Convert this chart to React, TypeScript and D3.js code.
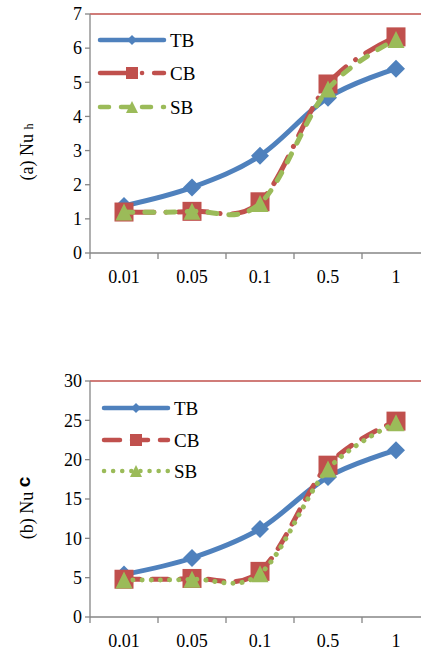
import * as d3 from "d3";

const categories = ["0.01", "0.05", "0.1", "0.5", "1"];
const seriesNames = ["TB", "CB", "SB"];

// panel (a) Nu_h
const nuhTB = [1.38, 1.92, 2.85, 4.55, 5.4];
const nuhCB = [1.2, 1.22, 1.5, 4.95, 6.33];
const nuhSB = [1.2, 1.22, 1.45, 4.8, 6.25];
const nuhTicks = [0, 1, 2, 3, 4, 5, 6, 7];

// panel (b) Nu_c
const nucTB = [5.4, 7.5, 11.2, 17.8, 21.2];
const nucCB = [4.8, 4.9, 5.8, 19.3, 24.9];
const nucSB = [4.7, 4.8, 5.5, 18.8, 24.7];
const nucTicks = [0, 5, 10, 15, 20, 25, 30];

const BLUE = "#4f81bd";
const RED = "#c0504d";
const GREEN = "#9bbb59";
const GREY = "#868686";
const SERIF = { fontFamily: "'Liberation Serif', 'Times New Roman', Times, serif" };

type Style = { color: string; dash: string; marker: string };

function Marker({ type, x, y, color, size }: { type: string; x: number; y: number; color: string; size: number }) {
  if (type === "diamond") {
    const r = size;
    return <path d={`M${x},${y - r}L${x + r},${y}L${x},${y + r}L${x - r},${y}Z`} fill={color} />;
  }
  if (type === "square") {
    const s = size;
    return <rect x={x - s} y={y - s} width={s * 2} height={s * 2} fill={color} />;
  }
  const h = size;
  return <path d={`M${x},${y - h}L${x + h},${y + h}L${x - h},${y + h}Z`} fill={color} />;
}

function Panel({
  top,
  bottom,
  max,
  ticks,
  data,
  styles,
  label,
  sub,
  subBold,
  labelY,
  legendY,
  legendX,
}: {
  top: number;
  bottom: number;
  max: number;
  ticks: number[];
  data: number[][];
  styles: Style[];
  label: string;
  sub: string;
  subBold: boolean;
  labelY: number;
  legendY: number[];
  legendX: number;
}) {
  const left = 90;
  const x = d3.scaleBand().domain(categories).range([left, 430]).padding(0);
  const y = d3.scaleLinear().domain([0, max]).range([bottom, top]);
  const cx = (c: string) => (x(c) as number) + x.bandwidth() / 2;
  const line = d3
    .line<number>()
    .x((_, i) => cx(categories[i]))
    .y((d) => y(d))
    .curve(d3.curveCardinal.tension(0));
  const boundaries = categories.map((c) => x(c) as number).concat([430]);
  const sizes = [9, 9.5, 8.5];

  return (
    <g>
      <line x1={left} x2={421} y1={top} y2={top} stroke="#c0504d" strokeWidth={1.3} />
      <line x1={left} x2={left} y1={top} y2={bottom} stroke={GREY} strokeWidth={1.3} />
      <line x1={left} x2={430} y1={bottom} y2={bottom} stroke={GREY} strokeWidth={1.3} />
      {ticks.map((t) => (
        <g key={t}>
          <line x1={left - 5} x2={left} y1={y(t)} y2={y(t)} stroke={GREY} strokeWidth={1.3} />
          <text x={left - 8} y={y(t)} dy="0.35em" textAnchor="end" fontSize={18} style={SERIF}>
            {t}
          </text>
        </g>
      ))}
      {boundaries.map((b, i) => (
        <line key={i} x1={b} x2={b} y1={bottom} y2={bottom + 6} stroke={GREY} strokeWidth={1.3} />
      ))}
      {categories.map((c) => (
        <text key={c} x={cx(c)} y={bottom + 30} textAnchor="middle" fontSize={18} style={SERIF}>
          {c}
        </text>
      ))}
      <text
        transform={`translate(33,${labelY}) rotate(-90)`}
        fontSize={18}
        style={SERIF}
        textAnchor="middle"
      >
        {label}
        <tspan
          dy={subBold ? -3 : 0}
          fontSize={subBold ? 19 : 12}
          fontWeight={subBold ? "bold" : "normal"}
          style={subBold ? { fontFamily: "'Liberation Sans', Arial, sans-serif" } : SERIF}
        >
          {sub}
        </tspan>
      </text>
      {data.map((vals, si) => (
        <g key={si}>
          <path
            d={line(vals) || ""}
            fill="none"
            stroke={styles[si].color}
            strokeWidth={5}
            strokeDasharray={styles[si].dash}
            strokeLinecap="round"
            strokeLinejoin="round"
          />
          {vals.map((v, i) => (
            <Marker
              key={i}
              type={styles[si].marker}
              x={cx(categories[i])}
              y={y(v)}
              color={styles[si].color}
              size={sizes[si]}
            />
          ))}
        </g>
      ))}
      {seriesNames.map((n, i) => (
        <g key={n}>
          <line
            x1={legendX}
            x2={legendX + 64}
            y1={legendY[i]}
            y2={legendY[i]}
            stroke={styles[i].color}
            strokeWidth={4.5}
            strokeDasharray={styles[i].dash}
            strokeLinecap="round"
          />
          <Marker type={styles[i].marker} x={legendX + 32} y={legendY[i]} color={styles[i].color} size={[5, 6, 6][i]} />
          <text x={legendX + 70} y={legendY[i]} dy="0.35em" fontSize={19} style={SERIF}>
            {n}
          </text>
        </g>
      ))}
    </g>
  );
}

export default function App() {
  return (
    <svg
      width={421}
      height={650}
      style={{ position: "absolute", left: 0, top: 0, background: "#fff" }}
    >
      <Panel
        top={14}
        bottom={253}
        max={7}
        ticks={nuhTicks}
        data={[nuhTB, nuhCB, nuhSB]}
        styles={[
          { color: BLUE, dash: "none", marker: "diamond" },
          { color: RED, dash: "30,12,0.1,12", marker: "square" },
          { color: GREEN, dash: "9,12", marker: "triangle" },
        ]}
        label="(a)  Nu "
        sub="h"
        subBold={false}
        labelY={152}
        legendY={[40, 73, 107]}
        legendX={100}
      />
      <Panel
        top={381}
        bottom={617}
        max={30}
        ticks={nucTicks}
        data={[nucTB, nucCB, nucSB]}
        styles={[
          { color: BLUE, dash: "none", marker: "diamond" },
          { color: RED, dash: "16,12", marker: "square" },
          { color: GREEN, dash: "0.1,9", marker: "triangle" },
        ]}
        label="(b)  Nu "
        sub="c"
        subBold={true}
        labelY={508}
        legendY={[408, 440, 471]}
        legendX={104}
      />
    </svg>
  );
}
